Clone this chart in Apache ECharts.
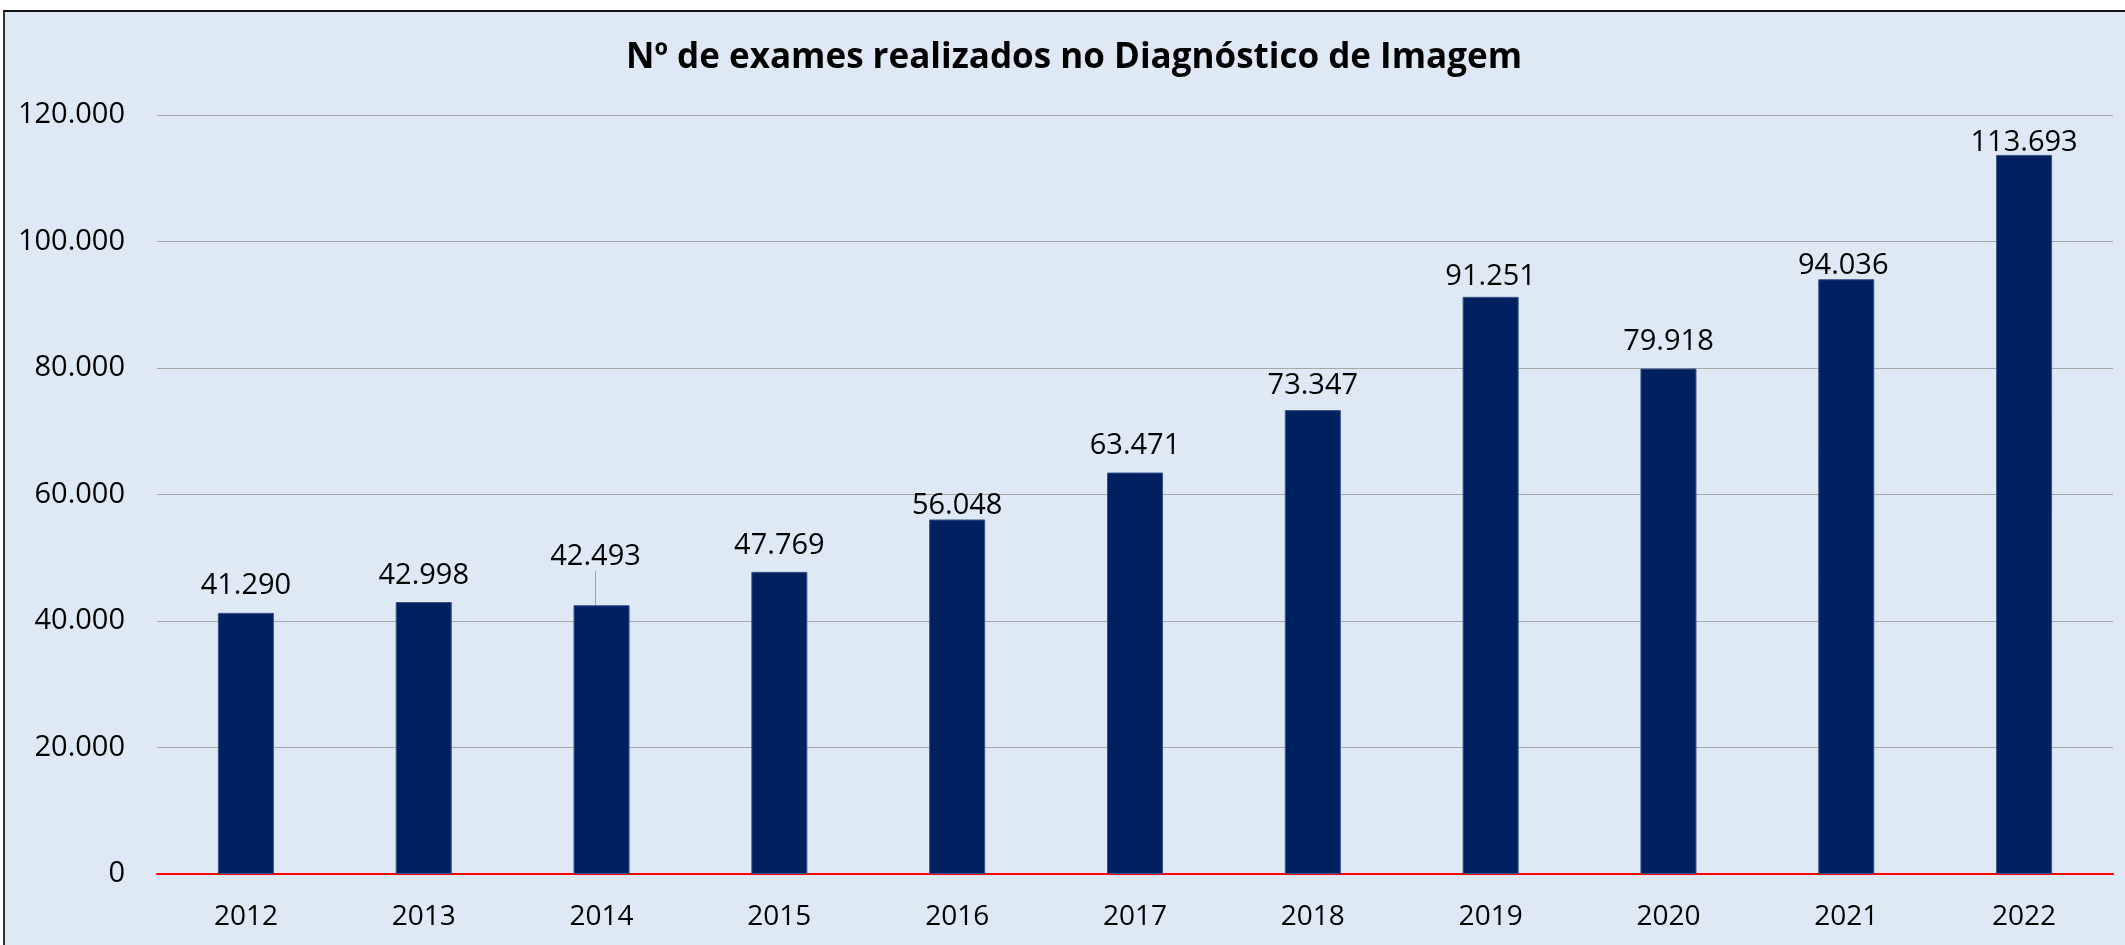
<!DOCTYPE html>
<html>
<head>
<meta charset="utf-8">
<script src="https://cdn.jsdelivr.net/npm/echarts@6/dist/echarts.min.js"></script>
<style>
  html, body { margin: 0; padding: 0; width: 2125px; height: 945px; overflow: hidden; background: #ffffff; }
  #panel { position: absolute; left: 3px; top: 10px; width: 2200px; height: 1000px; background: #DEE9F5; border-top: 2px solid #111; border-left: 2px solid #333; }
  #chart { position: absolute; left: 0; top: 0; width: 2125px; height: 945px; }
</style>
</head>
<body>
<div id="panel"></div>
<div id="chart"></div>
<script>
const title = 'Nº de exames realizados no Diagnóstico de Imagem';
const years = ['2012', '2013', '2014', '2015', '2016', '2017', '2018', '2019', '2020', '2021', '2022'];
const exams = [41290, 42998, 42493, 47769, 56048, 63471, 73347, 91251, 79918, 94036, 113693];
const yTicks = [0, 20000, 40000, 60000, 80000, 100000, 120000];

// manual label nudges (vertical px) as placed in the original
const labelDy = [-1, 0, -22, 0, 13, 0, 2, 6, 0, 13, 14];
const labelDx = [0, 0, -6, 0, 0, 0, 0, 0, 0, -3, 0];

function fmt(v) { return String(v).replace(/\B(?=(\d{3})+(?!\d))/g, '.'); }

const FONT = "'Open Sans', 'Noto Sans', sans-serif";
const chart = echarts.init(document.getElementById('chart'), null, { renderer: 'canvas' });
chart.setOption({
  backgroundColor: 'transparent',
  animation: false,
  title: {
    text: title,
    left: 1069,
    top: 36,
    textAlign: 'center',
    textStyle: { fontFamily: FONT, fontWeight: 'bold', fontSize: 35, color: '#000' }
  },
  grid: { left: 157, right: 12, top: 115, bottom: 71, containLabel: false },
  xAxis: {
    type: 'category',
    data: years,
    axisLine: { show: true, lineStyle: { color: '#FF0000', width: 2 } },
    axisTick: { show: false },
    axisLabel: { fontFamily: FONT, fontSize: 28, color: '#000', margin: 29 }
  },
  yAxis: {
    type: 'value',
    min: yTicks[0],
    max: yTicks[yTicks.length - 1],
    interval: yTicks[1] - yTicks[0],
    axisLine: { show: false },
    axisTick: { show: false },
    splitLine: { lineStyle: { color: '#A8A8A8', width: 1 } },
    axisLabel: { fontFamily: FONT, fontSize: 29, color: '#000', margin: 32, formatter: fmt }
  },
  series: [{
    type: 'bar',
    data: exams.map((v, i) => i === 2 ? { value: v, labelLine: { show: true } } : { value: v }),
    barWidth: 56,
    itemStyle: { color: '#002060', borderColor: '#35538C', borderWidth: 1 },
    label: {
      show: true,
      position: 'top',
      distance: 12,
      fontFamily: FONT,
      fontSize: 29,
      color: '#000',
      formatter: p => fmt(p.value)
    },
    labelLine: { show: false, lineStyle: { color: '#A0A0A0', width: 1 } },
    labelLayout: p => ({ dx: labelDx[p.dataIndex], dy: labelDy[p.dataIndex] })
  }]
});
</script>
</body>
</html>
